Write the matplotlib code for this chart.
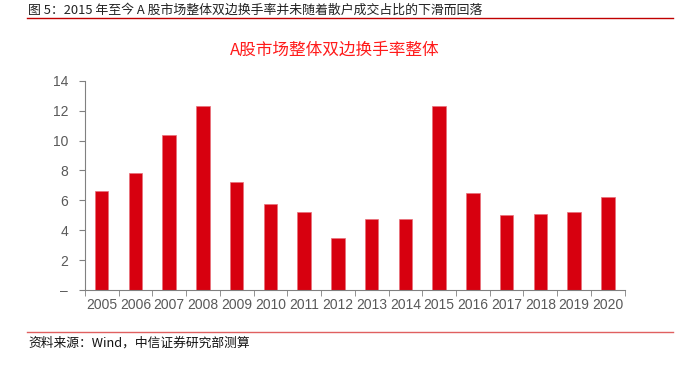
import matplotlib.pyplot as plt
import matplotlib.ticker as ticker
from matplotlib.lines import Line2D

# 数据
years = ['2005', '2006', '2007', '2008', '2009', '2010', '2011', '2012',
         '2013', '2014', '2015', '2016', '2017', '2018', '2019', '2020']
turnover = [6.6, 7.8, 10.4, 12.3, 7.25, 5.75, 5.2, 3.5,
            4.75, 4.75, 12.3, 6.5, 5.0, 5.1, 5.2, 6.2]
y_ticks = [0, 2, 4, 6, 8, 10, 12, 14]
y_labels = ['–', '2', '4', '6', '8', '10', '12', '14']

plt.rcParams['font.family'] = ['Noto Sans CJK SC', 'DejaVu Sans']
num_font = ['Liberation Sans Narrow', 'Liberation Sans', 'DejaVu Sans']
grey = '#595959'
red = '#d7000f'

fig = plt.figure(figsize=(6.79, 3.67), dpi=100)
ax = fig.add_axes([0.125, 0.21, 0.795, 0.57])

x = range(len(years))
ax.bar(x, turnover, width=0.4, color=red, edgecolor='#e8707a', linewidth=0.5)

ax.set_xlim(-0.5, len(years) - 0.5)
ax.set_ylim(0, 14)
ax.set_yticks(y_ticks)
ax.set_yticklabels(y_labels, family=num_font, fontsize=10, color=grey)
ax.set_xticks(list(x))
ax.set_xticklabels(years, family=num_font, fontsize=10, color=grey)
# x轴刻度线放在类别分界处
ax.xaxis.set_minor_locator(ticker.FixedLocator([i - 0.5 for i in range(len(years) + 1)]))
ax.tick_params(axis='x', which='major', length=0, pad=6)
ax.tick_params(axis='x', which='minor', length=4, color='#808080', direction='out')
ax.tick_params(axis='y', length=4, color='#808080', direction='out', pad=8)

for s in ['top', 'right']:
    ax.spines[s].set_visible(False)
for s in ['left', 'bottom']:
    ax.spines[s].set_color('#808080')
    ax.spines[s].set_linewidth(0.8)

# 图内标题
fig.text(335 / 679, 1 - 50 / 367, 'A股市场整体双边换手率整体', color='#ff1a1a',
         fontsize=12, ha='center', va='center')

# 图表头部与来源
fig.text(28 / 679, 1 - 10 / 367, '图 5：2015 年至今 A 股市场整体双边换手率并未随着散户成交占比的下滑而回落',
         fontsize=9.3, color='#222222', ha='left', va='center')
fig.add_artist(Line2D([27 / 679, 673 / 679], [1 - 17.5 / 367] * 2, color='#c00000', linewidth=1))
fig.add_artist(Line2D([27 / 679, 673 / 679], [1 - 332 / 367] * 2, color='#e06060', linewidth=1))
fig.text(28 / 679, 1 - 343 / 367, '资料来源：Wind，中信证券研究部测算',
         fontsize=9.2, color='#111111', ha='left', va='center')

fig.savefig('out.png', dpi=100)
